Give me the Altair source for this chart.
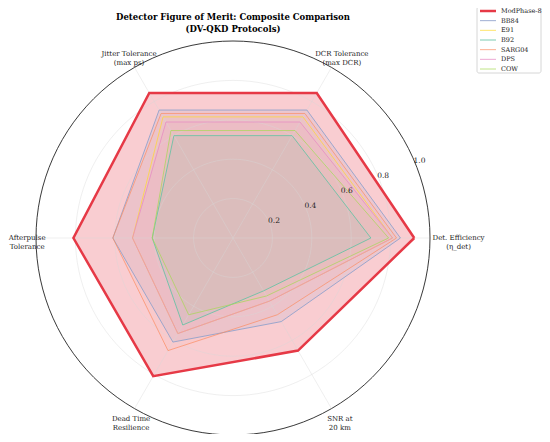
import altair as alt
import pandas as pd
import numpy as np

categories = ["Det. Efficiency\n(η_det)", "DCR Tolerance\n(max DCR)", "Jitter Tolerance\n(max ps)",
              "Afterpulse\nTolerance", "Dead Time\nResilience", "SNR at\n20 km"]
series = ["ModPhase-8", "BB84", "E91", "B92", "SARG04", "DPS", "COW"]
modphase8 = [0.92, 0.85, 0.85, 0.81, 0.81, 0.66]
bb84 = [0.85, 0.75, 0.75, 0.61, 0.61, 0.49]
e91 = [0.81, 0.71, 0.71, 0.51, 0.56, 0.37]
b92 = [0.70, 0.60, 0.60, 0.41, 0.51, 0.31]
sarg04 = [0.83, 0.73, 0.73, 0.61, 0.66, 0.45]
dps = [0.81, 0.68, 0.68, 0.51, 0.56, 0.37]
cow = [0.79, 0.63, 0.63, 0.41, 0.45, 0.34]
radial_ticks = [0.2, 0.4, 0.6, 0.8, 1.0]
title_text = "Detector Figure of Merit: Composite Comparison\n(DV-QKD Protocols)"

colors = ["#e63946", "#8da0cb", "#ffd92f", "#66c2a5", "#fc8d62", "#e78ac3", "#a6d854"]
widths = [2.5, 1.0, 1.0, 1.0, 1.0, 1.0, 1.0]
opac = [1, 0.85, 0.7, 0.85, 0.7, 0.75, 0.7]
fill_op = [0.25, 0.12, 0.02, 0.1, 0.05, 0.1, 0.05]
FONT = "DejaVu Serif"

vals = [modphase8, bb84, e91, b92, sarg04, dps, cow]
rows = []
for s, v in zip(series, vals):
    for i in range(len(categories) + 1):
        rows.append({"series": s, "idx": i, "value": v[i % len(categories)]})
df = pd.DataFrame(rows)

W, H = 534, 396
CX, CY, R = 225, 200, 197
xs = alt.Scale(domain=[-CX / R, (W - CX) / R], nice=False, zero=False)
ys = alt.Scale(domain=[-(H - CY) / R, CY / R], nice=False, zero=False)
col_scale = alt.Scale(domain=series, range=colors)
w_scale = alt.Scale(type="ordinal", domain=series, range=widths)
o_scale = alt.Scale(type="ordinal", domain=series, range=opac)
fo_scale = alt.Scale(type="ordinal", domain=series, range=fill_op)

# grid
ang = np.arange(0, 361, 3)
grid = pd.DataFrame([{"ring": r, "a": a} for r in radial_ticks for a in ang])
grid_base = alt.Chart(grid).transform_calculate(
    gx="datum.ring*cos(datum.a*PI/180)", gy="datum.ring*sin(datum.a*PI/180)"
)
grid_layer = grid_base.transform_filter("datum.ring < 1").mark_line(
    strokeWidth=0.8, color="#d8d8d8", opacity=0.5).encode(
    x=alt.X("gx:Q", scale=xs, axis=None), y=alt.Y("gy:Q", scale=ys, axis=None),
    detail="ring:N", order="a:Q",
)
outer_layer = grid_base.transform_filter("datum.ring >= 1").mark_line(
    strokeWidth=0.9, color="#222222").encode(
    x=alt.X("gx:Q", scale=xs, axis=None), y=alt.Y("gy:Q", scale=ys, axis=None),
    detail="ring:N", order="a:Q",
)
spokes = pd.DataFrame({"idx": list(range(len(categories)))})
spoke_layer = alt.Chart(spokes).transform_calculate(
    x0="0", y0="0", x1="cos(datum.idx*PI/3)", y1="sin(datum.idx*PI/3)"
).mark_rule(color="#d8d8d8", strokeWidth=0.8, opacity=0.5).encode(
    x=alt.X("x0:Q", scale=xs, axis=None), y=alt.Y("y0:Q", scale=ys, axis=None), x2="x1:Q", y2="y1:Q"
)

base = alt.Chart(df).transform_calculate(
    px="datum.value*cos(datum.idx*PI/3)", py="datum.value*sin(datum.idx*PI/3)"
)
fills = base.transform_calculate(s2="datum.series").mark_line(strokeOpacity=0).encode(
    x=alt.X("px:Q", scale=xs, axis=None), y=alt.Y("py:Q", scale=ys, axis=None), order="idx:Q", detail="s2:N",
    fill=alt.Fill("s2:N", scale=col_scale, legend=None),
    fillOpacity=alt.FillOpacity("s2:N", scale=fo_scale, legend=None),
)
lines = base.mark_line().encode(
    x=alt.X("px:Q", scale=xs, axis=None), y=alt.Y("py:Q", scale=ys, axis=None), order="idx:Q",
    color=alt.Color("series:N", scale=col_scale, legend=None),
    strokeWidth=alt.StrokeWidth("series:N", scale=w_scale, legend=None),
    opacity=alt.Opacity("series:N", scale=o_scale, legend=None),
)

cat_df = pd.DataFrame({"label": categories, "idx": list(range(len(categories)))})
cat_layer = alt.Chart(cat_df).transform_calculate(
    a="datum.idx*PI/3",
    rl="1.075 + 0.02*pow(cos(datum.a),2) - (sin(datum.a) < -0.1 ? 0.02 : 0)",
    lx="datum.rl*cos(datum.a) + 0.05*pow(cos(datum.a),2)",
    ly="datum.rl*sin(datum.a)"
).mark_text(font=FONT, fontSize=7, lineBreak="\n", align="center", baseline="middle",
            color="#222222", lineHeight=9).encode(
    x=alt.X("lx:Q", scale=xs, axis=None), y=alt.Y("ly:Q", scale=ys, axis=None), text="label:N"
)
tick_df = pd.DataFrame({"r": radial_ticks})
tick_layer = alt.Chart(tick_df).transform_calculate(
    tx="(datum.r+0.025)*cos(PI/8)", ty="(datum.r+0.025)*sin(PI/8)",
    t="format(datum.r, '.1f')"
).mark_text(font=FONT, fontSize=7.5, align="center", baseline="middle", color="#222222").encode(
    x=alt.X("tx:Q", scale=xs, axis=None), y=alt.Y("ty:Q", scale=ys, axis=None), text="t:N"
)

title_layer = alt.Chart(pd.DataFrame({"t": [title_text]})).mark_text(
    font=FONT, fontSize=8.5, fontWeight="bold", align="center", baseline="middle",
    lineBreak="\n", lineHeight=12.5, color="#000000").encode(
    x=alt.value(CX), y=alt.value(-21.5), text="t:N"
)

# legend drawn from the series list
leg_df = pd.DataFrame({"series": series})
leg_y = alt.Scale(type="point", domain=series, range=[-27, 31], padding=0)
leg_box = alt.Chart(pd.DataFrame({"k": [0]})).mark_rect(
    fill="white", stroke="#cccccc", strokeWidth=0.8, cornerRadius=2).encode(
    x=alt.value(469), x2=alt.value(533), y=alt.value(-31), y2=alt.value(35)
)
leg_lines = alt.Chart(leg_df).mark_rule().encode(
    x=alt.value(472), x2=alt.value(488),
    y=alt.Y("series:N", scale=leg_y, axis=None),
    color=alt.Color("series:N", scale=col_scale, legend=None),
    strokeWidth=alt.StrokeWidth("series:N", scale=w_scale, legend=None),
    opacity=alt.Opacity("series:N", scale=o_scale, legend=None),
)
leg_text = alt.Chart(leg_df).mark_text(
    font=FONT, fontSize=6.5, align="left", baseline="middle", color="#222222").encode(
    x=alt.value(493), y=alt.Y("series:N", scale=leg_y, axis=None), text="series:N"
)

chart = alt.layer(fills, grid_layer, spoke_layer, outer_layer, lines, tick_layer, cat_layer,
                  title_layer, leg_box, leg_lines, leg_text).resolve_scale(y="independent").properties(
    width=W, height=H,
    autosize=alt.AutoSizeParams(type="none"),
    padding={"top": 30, "left": 0, "right": 0, "bottom": 0},
).configure_view(stroke=None)

chart.save("out.html", embed_options={"renderer": "svg", "actions": False})
